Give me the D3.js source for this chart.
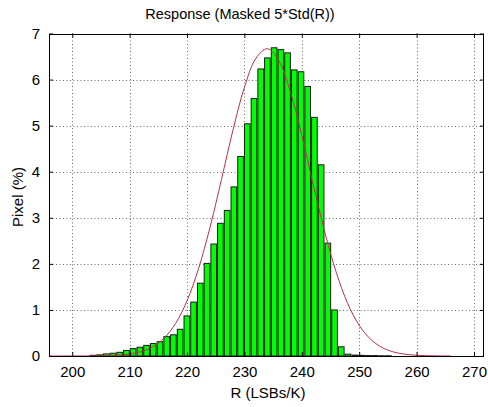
<!DOCTYPE html>
<html>
<head>
<meta charset="utf-8">
<script src="https://cdn.jsdelivr.net/npm/d3@7"></script>
<style>
  html, body { margin: 0; padding: 0; background: #fff; }
  svg { display: block; }
  text { font-family: "Liberation Sans", Arial, sans-serif; fill: #000; }
</style>
</head>
<body>
<script>
// Histogram bin centres (R, LSBs/K)
const binCenters = [
  203.59, 204.76, 205.93, 207.10, 208.27, 209.44, 210.61, 211.78, 212.95, 214.12,
  215.29, 216.46, 217.63, 218.80, 219.97, 221.14, 222.31, 223.48, 224.65, 225.82,
  226.99, 228.16, 229.33, 230.50, 231.67, 232.84, 234.01, 235.18, 236.35, 237.52,
  238.69, 239.86, 241.03, 242.20, 243.37, 244.54, 245.71, 246.88, 248.05, 249.22,
  250.39, 251.56, 252.73, 253.90, 255.07
];
// Share of pixels in each bin (%)
const pixelPct = [
  0.015, 0.025, 0.045, 0.06, 0.08, 0.12, 0.16, 0.19, 0.23, 0.27,
  0.31, 0.42, 0.46, 0.58, 0.87, 1.17, 1.58, 2.01, 2.43, 2.88,
  3.16, 3.67, 4.33, 5.04, 5.59, 6.23, 6.47, 6.69, 6.65, 6.58,
  6.21, 6.17, 5.85, 5.18, 4.15, 2.45, 1.00, 0.20, 0.04, 0.02,
  0.015, 0.01, 0.01, 0.005, 0.005
];
// Fitted normal curve, sampled
const fitR = [
  196, 198, 200, 202, 204, 206, 208, 210, 212, 214, 216, 218, 220, 222, 224, 226,
  228, 230, 232, 234, 236, 238, 240, 242, 244, 246, 248, 250, 252, 254, 256, 258,
  260, 262, 264, 266
];
const fitPct = [
  0.0000, 0.0001, 0.0002, 0.0008, 0.0023, 0.0066, 0.017, 0.041, 0.094, 0.197,
  0.387, 0.705, 1.198, 1.894, 2.79, 3.83, 4.90, 5.83, 6.46, 6.67, 6.41, 5.74,
  4.79, 3.72, 2.69, 1.816, 1.139, 0.666, 0.363, 0.184, 0.087, 0.038, 0.0156,
  0.006, 0.0021, 0.0007
];
const xTicks = [200, 210, 220, 230, 240, 250, 260, 270];
const yTicks = [0, 1, 2, 3, 4, 5, 6, 7];

const W = 488, H = 407;
const plot = { left: 49, right: 484, top: 33.5, bottom: 356 };

const svg = d3.select("body").append("svg")
  .attr("width", W).attr("height", H);

const x = d3.scaleLinear().domain([195.95, 271.75]).range([plot.left, plot.right]);
const y = d3.scaleLinear().domain([0, 7]).range([plot.bottom, plot.top]);

// dotted grid
const grid = svg.append("g").attr("stroke", "#6a6a6a").attr("stroke-width", 1)
  .attr("stroke-dasharray", "1,2.5");
grid.selectAll("line.gx").data(xTicks).join("line")
  .attr("x1", d => Math.round(x(d)) + 0.5).attr("x2", d => Math.round(x(d)) + 0.5)
  .attr("y1", plot.top).attr("y2", plot.bottom);
grid.selectAll("line.gy").data(yTicks.slice(1, -1)).join("line")
  .attr("x1", plot.left).attr("x2", plot.right)
  .attr("y1", d => Math.round(y(d)) + 0.5).attr("y2", d => Math.round(y(d)) + 0.5);

// histogram bars
const binW = binCenters[1] - binCenters[0];
const barPx = (x(binW) - x(0)) * 0.84;
svg.append("g").selectAll("rect").data(binCenters).join("rect")
  .attr("x", d => x(d) - barPx / 2)
  .attr("width", barPx)
  .attr("y", (d, i) => y(pixelPct[i]))
  .attr("height", (d, i) => y(0) - y(pixelPct[i]))
  .attr("fill", "#00ff00")
  .attr("stroke", "#1a1a1a")
  .attr("stroke-width", 1);

// fitted curve
const line = d3.line()
  .x((d, i) => x(fitR[i]))
  .y(d => y(d))
  .curve(d3.curveCatmullRom);
svg.append("path").datum(fitPct)
  .attr("d", line)
  .attr("fill", "none")
  .attr("stroke", "#b8304a")
  .attr("stroke-width", 1);

// axis frame with inward ticks on all sides
const frame = svg.append("g");
frame.append("rect")
  .attr("x", plot.left + 0.5).attr("y", Math.round(plot.top) + 0.5)
  .attr("width", plot.right - plot.left - 1).attr("height", plot.bottom - Math.round(plot.top))
  .attr("fill", "none").attr("stroke", "#000").attr("stroke-width", 1);

const tickLen = 4;
const bottomAxis = d3.axisBottom(x).tickValues(xTicks).tickSize(-tickLen).tickPadding(10).tickFormat(d3.format("d"));
const topAxis = d3.axisTop(x).tickValues(xTicks).tickSize(-tickLen).tickFormat("");
const leftAxis = d3.axisLeft(y).tickValues(yTicks).tickSize(-tickLen).tickPadding(9).tickFormat(d3.format("d"));
const rightAxis = d3.axisRight(y).tickValues(yTicks).tickSize(-tickLen).tickFormat("");

function styleAxis(g) {
  g.select(".domain").remove();
  g.selectAll(".tick line").attr("stroke", "#000");
  g.selectAll(".tick text").attr("font-size", 15).attr("font-family", '"Liberation Sans", Arial, sans-serif').attr("fill", "#000");
}
frame.append("g").attr("transform", `translate(0,${plot.bottom})`).call(bottomAxis).call(styleAxis);
frame.append("g").attr("transform", `translate(0,${plot.top})`).call(topAxis).call(styleAxis);
frame.append("g").attr("transform", `translate(${plot.left},0)`).call(leftAxis).call(styleAxis);
frame.append("g").attr("transform", `translate(${plot.right},0)`).call(rightAxis).call(styleAxis);

// titles
svg.append("text")
  .attr("x", 240).attr("y", 19)
  .attr("text-anchor", "middle").attr("font-size", 14.5)
  .text("Response (Masked 5*Std(R))");
svg.append("text")
  .attr("x", 268).attr("y", 398)
  .attr("text-anchor", "middle").attr("font-size", 15)
  .text("R (LSBs/K)");
svg.append("text")
  .attr("transform", "translate(23,197) rotate(-90)")
  .attr("text-anchor", "middle").attr("font-size", 15)
  .text("Pixel (%)");
</script>
</body>
</html>
